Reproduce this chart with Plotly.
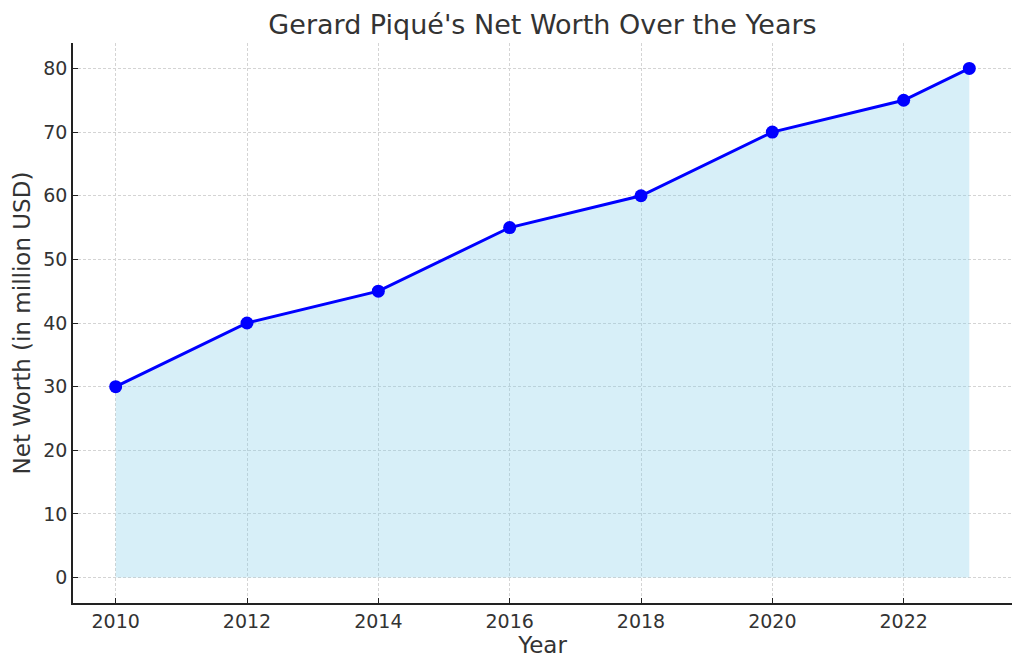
import plotly.graph_objects as go

years = [2010, 2012, 2014, 2016, 2018, 2020, 2022, 2023]
net_worth = [30, 40, 45, 55, 60, 70, 75, 80]
x_ticks = [2010, 2012, 2014, 2016, 2018, 2020, 2022]
y_ticks = [0, 10, 20, 30, 40, 50, 60, 70, 80]

fig = go.Figure()
fig.add_trace(go.Scatter(
    x=years, y=net_worth, mode="none", fill="tozeroy",
    fillcolor="rgba(135,206,235,0.33)", hoverinfo="skip", showlegend=False))
fig.add_trace(go.Scatter(
    x=years, y=net_worth, mode="lines+markers",
    line=dict(color="#0000FF", width=3),
    marker=dict(color="#0000FF", size=13),
    showlegend=False))

font = "DejaVu Sans, Arial, sans-serif"
axis_common = dict(
    showline=True, linecolor="#222", linewidth=1.5, mirror=False,
    ticks="inside", ticklen=5, tickcolor="#222", tickwidth=1,
    showgrid=True, gridcolor="#d4d4d4", gridwidth=0.8, griddash="3px,2px",
    zeroline=False, tickfont=dict(family=font, size=19, color="#333"),
)

fig.update_layout(
    width=1024, height=671,
    margin=dict(l=73, r=12, t=43, b=68, autoexpand=False),
    paper_bgcolor="white", plot_bgcolor="white",
    title=dict(text="Gerard Piqué's Net Worth Over the Years",
               font=dict(family=font, size=27, color="#333"),
               xref="paper", x=0.5, xanchor="center", y=0.963, yanchor="middle"),
    xaxis=dict(range=[2009.35, 2023.65], tickvals=x_ticks, automargin=False,
               title=dict(text="Year", font=dict(family=font, size=23, color="#333"), standoff=6),
               **axis_common),
    yaxis=dict(range=[-4, 84], tickvals=y_ticks, automargin=False,
               title=dict(text="Net Worth (in million USD)", font=dict(family=font, size=23, color="#333"), standoff=6),
               **axis_common),
)

fig.write_html("out.html")
